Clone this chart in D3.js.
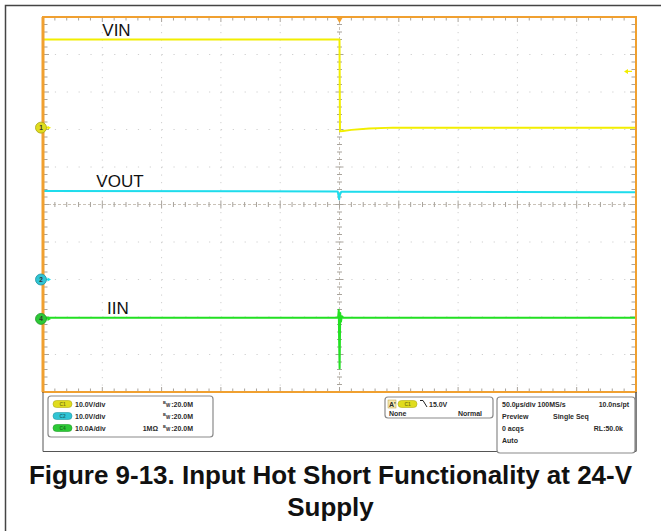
<!DOCTYPE html>
<html>
<head>
<meta charset="utf-8">
<script src="https://cdn.jsdelivr.net/npm/d3@7"></script>
<style>
  body { margin: 0; background: #fff; }
  svg { display: block; }
  text { font-family: "Liberation Sans", Arial, sans-serif; }
</style>
</head>
<body>
<svg id="chart" width="661" height="531"></svg>
<script>
// ---- Acquisition settings (time in µs, 50 µs/div, trigger at centre) ----
const timeDomain = [-250, 250];
const divisionsX = 10;
const divisionsY = 10;

// Channel names, scales (units per division) and ground offsets (divisions above centre)
const channelNames  = ["VIN", "VOUT", "IIN"];
const channelIds    = ["1", "2", "4"];
const channelScale  = [10, 10, 10];          // 10.0 V/div, 10.0 V/div, 10.0 A/div
const channelOffset = [2.05, -2.0, -3.05];   // ground reference positions

// VIN (C1), volts
const vinTime  = [-250, -1, 0, 0.4, 3, 10, 25, 45, 250];
const vinValue = [23.5, 23.5, 23.5, -1.0, -0.9, -0.6, -0.25, 0.0, 0.0];

// VOUT (C2), volts
const voutTime  = [-250, -1.5, -0.3, 0.3, 1.5, 3, 250];
const voutValue = [23.6, 23.5, 21.4, 22.6, 23.4, 23.4, 23.3];

// IIN (C4), amps
const iinTime  = [-250, -1.2, -0.6, -0.3, 0.1, 0.6, 1.2, 2.0, 3.2, 250];
const iinValue = [0.3, 0.3, 2.4, -6, -13.2, 1.6, -0.8, 0.7, 0.3, 0.3];

// Where each trace name sits along the time axis (µs)
const labelTime = [-200, -205, -196];

// Trigger: C1 falling edge at 15.0 V
const triggerLevel = 15.0;

// Readout panel text
const chanReadout = [
  { id: "C1", scale: "10.0V/div", imp: "" },
  { id: "C2", scale: "10.0V/div", imp: "" },
  { id: "C4", scale: "10.0A/div", imp: "1MΩ" }
];
const bwLimit = ":20.0M";
const timeReadout = [
  ["50.0µs/div 100MS/s", "10.0ns/pt"],
  ["Preview", "Single Seq"],
  ["0 acqs", "RL:50.0k"],
  ["Auto", ""]
];
const captionLines = ["Figure 9-13. Input Hot Short Functionality at 24-V", "Supply"];

// ---- Styles ----
const traceColors = ["#f2ee00", "#1fdcec", "#22e022"];
const badgeColors = ["#e0dc1e", "#30c4d4", "#2cc936"];
const frameOrange = "#f0a030";

const svg = d3.select("#chart");

// Outer figure frame (left and top edges)
svg.append("path")
  .attr("d", "M5.5,531 V5.5 H661")
  .attr("fill", "none").attr("stroke", "#444").attr("stroke-width", 1.5);

const plot = { left: 43, right: 636, top: 17, bottom: 392 };
const x = d3.scaleLinear().domain(timeDomain).range([plot.left, plot.right]);
const y = d3.scaleLinear().domain([-divisionsY / 2, divisionsY / 2]).range([plot.bottom, plot.top]);

const divW = (plot.right - plot.left) / divisionsX;
const divH = (plot.bottom - plot.top) / divisionsY;

// Dotted graticule
const g = svg.append("g");
d3.range(1, divisionsX).filter(i => i !== divisionsX / 2).forEach(i => {
  g.append("line")
    .attr("x1", plot.left + i * divW).attr("x2", plot.left + i * divW)
    .attr("y1", plot.top).attr("y2", plot.bottom)
    .attr("stroke", "#cfcfcf").attr("stroke-width", 1)
    .attr("stroke-dasharray", "1.2," + (divH / 5 - 1.2));
});
d3.range(1, divisionsY).filter(i => i !== divisionsY / 2).forEach(i => {
  g.append("line")
    .attr("x1", plot.left).attr("x2", plot.right)
    .attr("y1", plot.top + i * divH).attr("y2", plot.top + i * divH)
    .attr("stroke", "#cfcfcf").attr("stroke-width", 1)
    .attr("stroke-dasharray", "1.2," + (divW / 5 - 1.2));
});

// Centre cross
const cx = x(0), cy = y(0);
g.append("line").attr("x1", cx).attr("x2", cx).attr("y1", plot.top).attr("y2", plot.bottom)
  .attr("stroke", "#c9c2b8").attr("stroke-width", 1).attr("stroke-dasharray", "3,2");
g.append("line").attr("x1", plot.left).attr("x2", plot.right).attr("y1", cy).attr("y2", cy)
  .attr("stroke", "#c9c2b8").attr("stroke-width", 1).attr("stroke-dasharray", "3,2");

// Minor ticks on the centre cross and frame edges
const tickColor = "#a8a39c";
d3.range(1, divisionsX * 5).forEach(k => {
  const xp = plot.left + k * divW / 5;
  const len = k % 5 === 0 ? 4 : 2.5;
  g.append("line").attr("x1", xp).attr("x2", xp).attr("y1", cy - len).attr("y2", cy + len)
    .attr("stroke", tickColor);
  g.append("line").attr("x1", xp).attr("x2", xp).attr("y1", plot.top).attr("y2", plot.top + len + 1)
    .attr("stroke", tickColor);
  g.append("line").attr("x1", xp).attr("x2", xp).attr("y1", plot.bottom).attr("y2", plot.bottom - len - 1)
    .attr("stroke", tickColor);
});
d3.range(1, divisionsY * 5).forEach(k => {
  const yp = plot.top + k * divH / 5;
  const len = k % 5 === 0 ? 4 : 2.5;
  g.append("line").attr("x1", cx - len).attr("x2", cx + len).attr("y1", yp).attr("y2", yp)
    .attr("stroke", tickColor);
  g.append("line").attr("x1", plot.left).attr("x2", plot.left + len + 2).attr("y1", yp).attr("y2", yp)
    .attr("stroke", tickColor);
  g.append("line").attr("x1", plot.right).attr("x2", plot.right - len - 2).attr("y1", yp).attr("y2", yp)
    .attr("stroke", tickColor);
});

// Traces
const series = [
  { t: vinTime, v: vinValue },
  { t: voutTime, v: voutValue },
  { t: iinTime, v: iinValue }
];
series.forEach((s, i) => {
  const pts = s.t.map((t, j) => [t, s.v[j]]);
  const line = d3.line()
    .x(d => x(d[0]))
    .y(d => y(channelOffset[i] + d[1] / channelScale[i]));
  svg.append("path")
    .datum(pts)
    .attr("d", line)
    .attr("fill", "none")
    .attr("stroke", traceColors[i])
    .attr("stroke-width", 2)
    .attr("stroke-linejoin", "round");
});

// Trace labels, sitting just above each trace
channelNames.forEach((name, i) => {
  svg.append("text")
    .attr("x", x(labelTime[i]))
    .attr("y", y(channelOffset[i] + series[i].v[0] / channelScale[i]) - 4)
    .attr("font-size", 17)
    .attr("fill", "#111")
    .text(name);
});

// Orange frame
svg.append("rect")
  .attr("x", plot.left).attr("y", plot.top)
  .attr("width", plot.right - plot.left).attr("height", plot.bottom - plot.top)
  .attr("fill", "none").attr("stroke", frameOrange).attr("stroke-width", 2);
svg.append("line").attr("x1", plot.left).attr("x2", plot.left)
  .attr("y1", plot.top).attr("y2", plot.bottom)
  .attr("stroke", frameOrange).attr("stroke-width", 3);

// Trigger position marker
svg.append("path")
  .attr("d", `M${cx - 3.5},${plot.top} L${cx + 3.5},${plot.top} L${cx},${plot.top + 6} Z`)
  .attr("fill", frameOrange);

// Trigger level marker (right edge)
const ty = y(channelOffset[0] + triggerLevel / channelScale[0]);
svg.append("path")
  .attr("d", `M${plot.right - 12},${ty} L${plot.right - 8},${ty - 2.5} L${plot.right - 8},${ty + 2.5} Z M${plot.right - 8},${ty - 0.6} H${plot.right - 4} V${ty + 0.6} H${plot.right - 8} Z`)
  .attr("fill", traceColors[0]);

// Channel ground markers
channelIds.forEach((id, i) => {
  const yp = y(channelOffset[i]);
  const mg = svg.append("g");
  mg.append("line").attr("x1", 44).attr("x2", 49).attr("y1", yp).attr("y2", yp)
    .attr("stroke", traceColors[i]).attr("stroke-width", 1.2);
  mg.append("path").attr("d", `M51,${yp} L47.5,${yp - 2} L47.5,${yp + 2} Z`).attr("fill", traceColors[i]);
  mg.append("circle").attr("cx", 41).attr("cy", yp).attr("r", 5.5)
    .attr("fill", badgeColors[i]).attr("stroke", d3.color(badgeColors[i]).darker(0.8)).attr("stroke-width", 0.8);
  mg.append("text").attr("x", 41).attr("y", yp + 2.3).attr("text-anchor", "middle")
    .attr("font-size", 6.5).attr("font-weight", "bold").attr("fill", "#333").text(id);
});

// Readout area
svg.append("path")
  .attr("d", `M${plot.left},${plot.bottom} V451.5 H${plot.right}`)
  .attr("fill", "none").attr("stroke", "#555").attr("stroke-width", 1);
svg.append("line").attr("x1", plot.right).attr("x2", plot.right).attr("y1", plot.bottom).attr("y2", 451.5)
  .attr("stroke", "#555").attr("stroke-width", 1.5);

const panel = (x0, y0, w, h) => svg.append("rect")
  .attr("x", x0).attr("y", y0).attr("width", w).attr("height", h).attr("rx", 3)
  .attr("fill", "#fff").attr("stroke", "#8a8a8a").attr("stroke-width", 1.2);

const badge = (x0, yc, color, label) => {
  svg.append("rect").attr("x", x0).attr("y", yc - 3.5).attr("width", 19).attr("height", 7).attr("rx", 3.5)
    .attr("fill", color).attr("stroke", d3.color(color).darker(0.7)).attr("stroke-width", 0.6);
  svg.append("text").attr("x", x0 + 9.5).attr("y", yc + 1.8).attr("text-anchor", "middle")
    .attr("font-size", 4.8).attr("font-weight", "bold").attr("fill", d3.color(color).darker(1.6)).text(label);
};

const small = (tx, ty2, str, anchor, size) => svg.append("text")
  .attr("x", tx).attr("y", ty2).attr("font-size", size || 7).attr("font-weight", "bold")
  .attr("fill", "#2a2a2a").attr("text-anchor", anchor || "start").text(str);

// Channel readout
panel(48, 396, 165, 41);
chanReadout.forEach((c, i) => {
  const yc = 404 + i * 12;
  badge(53, yc, badgeColors[i], c.id);
  small(75, yc + 2.5, c.scale);
  // bandwidth limit: small "B" raised, "W" lowered, then the value
  small(163, yc, "B", "start", 4);
  small(166, yc + 3, "W", "start", 4.5);
  small(193, yc + 2.5, bwLimit, "end");
  if (c.imp) small(158, yc + 2.5, c.imp, "end");
});

// Trigger readout
panel(385, 397, 108, 21);
svg.append("rect").attr("x", 388).attr("y", 400).attr("width", 8).attr("height", 8)
  .attr("fill", "#f6e9b0").attr("stroke", "#b59a40").attr("stroke-width", 0.5);
small(389, 406.5, "A'");
badge(398, 404, badgeColors[0], "C1");
svg.append("path").attr("d", "M420,400.5 L423,400.5 L427,407").attr("fill", "none")
  .attr("stroke", "#222").attr("stroke-width", 1);
small(429, 406.5, triggerLevel.toFixed(1) + "V");
small(389, 415.5, "None");
small(482, 415.5, "Normal", "end");

// Timebase readout
panel(497, 397, 138, 56);
timeReadout.forEach((row, i) => {
  const yr = 406.5 + i * 12.3;
  small(502, yr, row[0]);
  if (row[1]) {
    if (i === 1) small(553, yr, row[1]);
    else small(i === 0 ? 629 : 623, yr, row[1], "end");
  }
});

// Caption
const cap = svg.append("g");
const t1 = cap.append("text").attr("x", 330.5).attr("y", 484).attr("text-anchor", "middle")
  .attr("font-size", 25).attr("font-weight", "bold").attr("fill", "#111").text(captionLines[0]);
const t2 = cap.append("text").attr("x", 330.5).attr("y", 516).attr("text-anchor", "middle")
  .attr("font-size", 25).attr("font-weight", "bold").attr("fill", "#111").text(captionLines[1]);
const w1 = t1.node().getComputedTextLength();
const w2 = t2.node().getComputedTextLength();
const squeeze = 603 / w1;
t1.attr("textLength", 603).attr("lengthAdjust", "spacingAndGlyphs");
t2.attr("textLength", w2 * squeeze).attr("lengthAdjust", "spacingAndGlyphs");
</script>
</body>
</html>
